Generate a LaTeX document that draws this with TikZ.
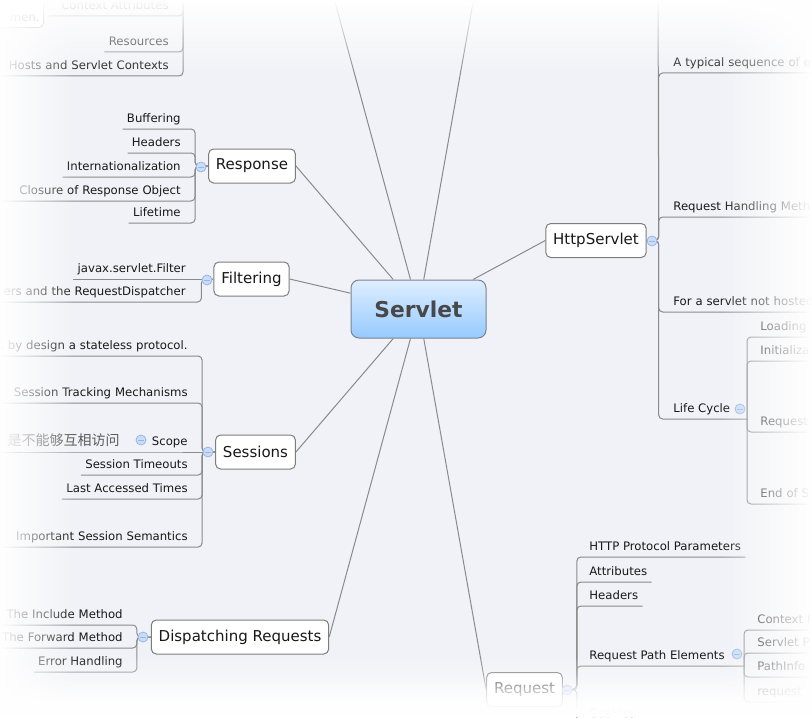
\documentclass[tikz,border=0pt]{standalone}
\usepackage{fontspec}
\setmainfont{DejaVu Sans}
\newfontfamily\zhfont{Noto Sans CJK SC}
\usetikzlibrary{fadings}

\definecolor{bgcol}{RGB}{241,242,247}
\definecolor{linecol}{RGB}{138,138,138}
\definecolor{boxcol}{RGB}{125,125,125}
\definecolor{textcol}{RGB}{24,24,24}
\definecolor{zhcol}{RGB}{90,90,90}
\definecolor{rootline}{RGB}{122,132,145}
\definecolor{roottop}{RGB}{222,238,255}
\definecolor{rootbot}{RGB}{150,202,255}
\definecolor{roottext}{RGB}{72,72,72}
\definecolor{foldfill}{RGB}{202,220,246}
\definecolor{foldline}{RGB}{150,182,230}

\newcommand\leaffont{\fontsize{5.85}{7}\selectfont}
\newcommand\topicfont{\fontsize{7.5}{9}\selectfont}
\newcommand\rootfont{\fontsize{10.9}{13}\selectfont\bfseries}
\newcommand\zhleaf{\zhfont\fontsize{7}{8}\selectfont}

\tikzfading[name=fadeW, left color=transparent!0, right color=transparent!100]
\tikzfading[name=fadeE, left color=transparent!100, right color=transparent!0]
\tikzfading[name=fadeN, top color=transparent!0, bottom color=transparent!100]
\tikzfading[name=fadeS, top color=transparent!100, bottom color=transparent!0]

\tikzset{root/.style={draw=rootline,top color=roottop,bottom color=rootbot,rounded corners=4pt,minimum width=67.5pt,minimum height=29pt,font=\rootfont,text=roottext,line width=0.5pt},
  topic/.style={draw=boxcol,fill=white,rounded corners=2.5pt,minimum height=17pt,inner xsep=3.7pt,font=\topicfont,text=textcol,line width=0.5pt},
  leaf/.style={font=\leaffont,text=textcol,inner xsep=2pt,inner ysep=3pt,text height=4.5pt,text depth=0pt},
  leafL/.style={leaf,anchor=south east,align=right},
  leafR/.style={leaf,anchor=south west,align=left},
  edgeL/.style={leafL,text width=110pt},
  edgeR/.style={leafR,text width=100pt},
  note/.style={leafL,draw=boxcol,fill=white,rounded corners=2.5pt,text width=40pt,text height=15pt},
  trunk/.style={linecol,line width=0.5pt},
  branch/.style={linecol,line width=0.5pt,rounded corners=2pt},
  fold/.style={circle,draw=foldline,fill=foldfill,minimum size=5pt,inner sep=0pt,line width=0.4pt,
    path picture={\draw[foldline,line width=0.5pt] ([xshift=-1.4pt]path picture bounding box.center) -- ([xshift=1.4pt]path picture bounding box.center);}}}

\begin{document}
\begin{tikzpicture}[x=0.5pt,y=-0.5pt]
  \fill[bgcol] (0,0) rectangle (812,717);
  \useasboundingbox (0,0) rectangle (812,717);

  % main topics
  \node[root] (servlet) at (418.5,309) {Servlet};
  \node[topic] (rsp) at (252,166) {Response};
  \node[topic] (flt) at (251.5,279) {Filtering};
  \node[topic] (ses) at (255.5,452) {Sessions};
  \node[topic] (dsp) at (240,637) {Dispatching Requests};
  \node[topic] (hs) at (596,240.5) {HttpServlet};
  \node[topic] (req) at (524.5,689.5) {Request};
  \coordinate (topL) at (329,-20);
  \coordinate (topR) at (477,-20);

  \draw[trunk] (servlet) -- (topL);
  \draw[trunk] (servlet) -- (topR);
  \draw[trunk] (servlet) -- (rsp.east);
  \draw[trunk] (servlet) -- (flt.east);
  \draw[trunk] (servlet) -- (ses.east);
  \draw[trunk] (servlet) -- (dsp.east);
  \draw[trunk] (servlet) -- (hs.west);
  \draw[trunk] (servlet) -- (req.west);

  % servlet context (top, cut off)
  \coordinate (ctx-top) at (183,-20);
  \node[leafL] (ctx1) at (173,16) {Context Attributes};
  \node[leafL] (ctx2) at (173,52) {Resources};
  \node[edgeL] (ctx3) at (173,76) {Hosts and Servlet Contexts};
  \node[note] (men) at (44,28) {men.};
  \draw[branch] (ctx-top) |- (ctx1.south east) -- (ctx1.south west) -- ++(-8,0);
  \draw[branch] (ctx-top) |- (ctx2.south east) -- (ctx2.south west);
  \draw[branch] (ctx-top) |- (ctx3.south east) -- (ctx3.south west);

  % response
  \node[leafL] (rsp1) at (185,129) {Buffering};
  \node[leafL] (rsp2) at (185,153) {Headers};
  \node[leafL] (rsp3) at (185,177) {Internationalization};
  \node[edgeL] (rsp4) at (185,201) {Closure of Response Object};
  \node[leafL] (rsp5) at (185,223) {Lifetime};
  \draw[branch] (rsp.west) -- ++(-13,0) |- (rsp1.south east) -- (rsp1.south west);
  \draw[branch] (rsp.west) -- ++(-13,0) |- (rsp2.south east) -- (rsp2.south west);
  \draw[branch] (rsp.west) -- ++(-13,0) |- (rsp3.south east) -- (rsp3.south west);
  \draw[branch] (rsp.west) -- ++(-13,0) |- (rsp4.south east) -- (rsp4.south west);
  \draw[branch] (rsp.west) -- ++(-13,0) |- (rsp5.south east) -- (rsp5.south west);

  % filtering
  \node[leafL] (flt1) at (190,279) {javax.servlet.Filter};
  \node[edgeL] (flt2) at (190,302) {ers and the RequestDispatcher};
  \draw[branch] (flt.west) -- (flt1.south west);
  \draw[branch] (flt.west) -- ++(-12,0) |- (flt2.south east) -- (flt2.south west);

  % sessions
  \node[edgeL] (ses1) at (192,356) {s by design a stateless protocol.};
  \node[edgeL] (ses2) at (192,403) {Session Tracking Mechanisms};
  \node[leafL] (ses3) at (192,452) {Scope};
  \node[edgeL,font=\zhleaf,text=zhcol] (ses3a) at (124,452) {是不能够互相访问};
  \node[leafL] (ses4) at (192,475) {Session Timeouts};
  \node[leafL] (ses5) at (192,499) {Last Accessed Times};
  \node[edgeL] (ses6) at (192,547) {Important Session Semantics};
  \draw[branch] (ses.west) -- ++(-13,0) |- (ses1.south east) -- (ses1.south west);
  \draw[branch] (ses.west) -- ++(-13,0) |- (ses2.south east) -- (ses2.south west);
  \draw[branch] (ses.west) -- (ses3.south west) -- (ses3a.south west);
  \draw[branch] (ses.west) -- ++(-13,0) |- (ses4.south east) -- (ses4.south west);
  \draw[branch] (ses.west) -- ++(-13,0) |- (ses5.south east) -- (ses5.south west);
  \draw[branch] (ses.west) -- ++(-13,0) |- (ses6.south east) -- (ses6.south west);

  % dispatching
  \node[edgeL] (dsp1) at (127,625) {The Include Method};
  \node[edgeL] (dsp2) at (127,648) {The Forward Method};
  \node[leafL] (dsp3) at (127,672) {Error Handling};
  \draw[branch] (dsp.west) -- ++(-14,0) |- (dsp1.south east) -- (dsp1.south west);
  \draw[branch] (dsp.west) -- ++(-14,0) |- (dsp2.south east) -- (dsp2.south west);
  \draw[branch] (dsp.west) -- ++(-14,0) |- (dsp3.south east) -- (dsp3.south west);

  % httpservlet
  \coordinate (hs-top) at (658,-20);
  \coordinate (lc-j) at (747,419);
  \node[edgeR] (hs1) at (669,73) {A typical sequence of e};
  \node[edgeR] (hs2) at (669,217) {Request Handling Meth};
  \node[edgeR] (hs3) at (669,312) {For a servlet not hosted};
  \node[leafR] (hs4) at (669,419) {Life Cycle};
  \node[edgeR] (lc1) at (756,337) {Loading};
  \node[edgeR] (lc2) at (756,361) {Initializa};
  \node[edgeR] (lc3) at (756,432) {Request};
  \node[edgeR] (lc4) at (756,504) {End of S};
  \draw[branch] (hs.east) -- ++(12,0) -- (hs-top);
  \draw[branch] (hs.east) -- ++(12,0) |- (hs1.south west) -- (hs1.south east);
  \draw[branch] (hs.east) -- ++(12,0) |- (hs2.south west) -- (hs2.south east);
  \draw[branch] (hs.east) -- ++(12,0) |- (hs3.south west) -- (hs3.south east);
  \draw[branch] (hs.east) -- ++(12,0) |- (hs4.south west) -- (lc-j);
  \draw[branch] (lc-j) |- (lc1.south west) -- (lc1.south east);
  \draw[branch] (lc-j) |- (lc2.south west) -- (lc2.south east);
  \draw[branch] (lc-j) |- (lc3.south west) -- (lc3.south east);
  \draw[branch] (lc-j) |- (lc4.south west) -- (lc4.south east);

  % request
  \coordinate (rpe-j) at (744,666);
  \node[leafR] (rq1) at (585,557) {HTTP Protocol Parameters};
  \node[leafR] (rq2) at (585,582) {Attributes};
  \node[leafR] (rq3) at (585,606) {Headers};
  \node[leafR] (rq4) at (585,666) {Request Path Elements};
  \node[leafR] (rq5) at (585,724) {Cookies};
  \node[edgeR] (rpe1) at (753,630) {Context P};
  \node[edgeR] (rpe2) at (753,653) {Servlet P};
  \node[edgeR] (rpe3) at (753,677) {PathInfo};
  \node[edgeR] (rpe4) at (753,702) {request};
  \draw[branch] (req.east) -- ++(14,0) |- (rq1.south west) -- (rq1.south east);
  \draw[branch] (req.east) -- ++(14,0) |- (rq2.south west) -- (rq2.south east);
  \draw[branch] (req.east) -- ++(14,0) |- (rq3.south west) -- (rq3.south east);
  \draw[branch] (req.east) -- ++(14,0) |- (rq4.south west) -- (rpe-j);
  \draw[branch] (req.east) -- ++(14,0) |- (rq5.south west) -- (rq5.south east);
  \draw[branch] (rpe-j) |- (rpe1.south west) -- (rpe1.south east);
  \draw[branch] (rpe-j) |- (rpe2.south west) -- (rpe2.south east);
  \draw[branch] (rpe-j) |- (rpe3.south west) -- (rpe3.south east);
  \draw[branch] (rpe-j) |- (rpe4.south west) -- (rpe4.south east);

  % fold markers
  \node[fold] (rsp-fold) at (201,167) {};
  \node[fold] (flt-fold) at (207,280) {};
  \node[fold] (ses-fold) at (208,452) {};
  \node[fold] (scope-fold) at (141,440) {};
  \node[fold] (dsp-fold) at (143,637) {};
  \node[fold] (hs-fold) at (652,241) {};
  \node[fold] (lc-fold) at (740,409) {};
  \node[fold] (req-fold) at (567,690) {};
  \node[fold] (rpe-fold) at (737,654) {};

  % white vignette round the edges
  \fill[white,path fading=fadeW] (0,0) rectangle (75,717);
  \fill[white,path fading=fadeE] (720,0) rectangle (812,717);
  \fill[white,path fading=fadeN] (0,0) rectangle (812,75);
  \fill[white,path fading=fadeS] (0,655) rectangle (812,717);
  \fill[white,path fading=fadeS] (0,675) rectangle (812,717);
\end{tikzpicture}
\end{document}
